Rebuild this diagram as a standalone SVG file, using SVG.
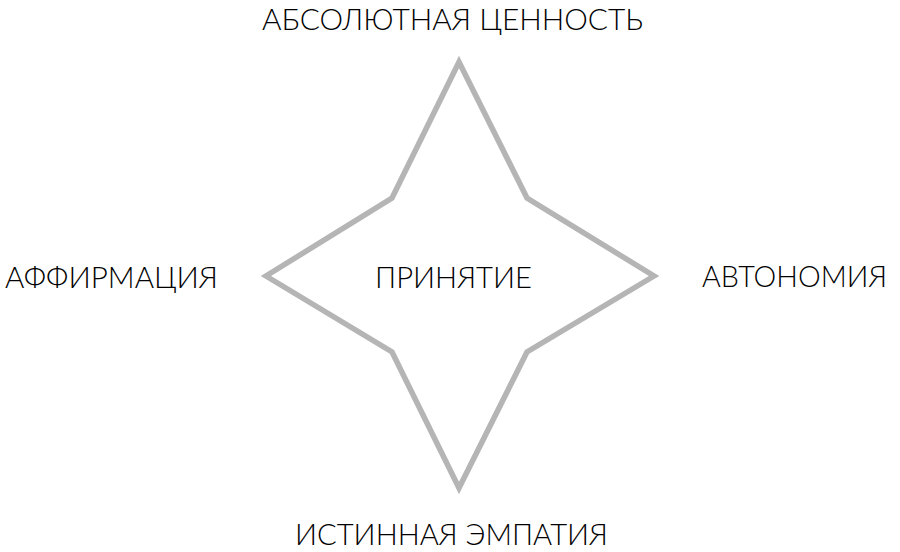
<svg xmlns="http://www.w3.org/2000/svg" width="900" height="552" viewBox="0 0 900 552">
<style>
.lbl{font-family:Lato,"Liberation Sans","DejaVu Sans",sans-serif;font-weight:300;font-size:29px;fill:#000000}
.star{fill:none;stroke:#b5b5b5;stroke-width:5.5;stroke-linejoin:miter}
</style>
<rect width="900" height="552" fill="#ffffff"/>
<g id="connectors">
<path class="star" d="M459,62 L527,198 L654,276 L527,352 L459,488 L392,352 L266,276 L392,198 Z"/>
</g>
<g id="node-top"><text class="lbl" x="262" y="30" textLength="381" lengthAdjust="spacingAndGlyphs">АБСОЛЮТНАЯ ЦЕННОСТЬ</text></g>
<g id="node-left"><text class="lbl" x="5" y="288" textLength="213" lengthAdjust="spacingAndGlyphs">АФФИРМАЦИЯ</text></g>
<g id="node-center"><text class="lbl" x="375" y="288" textLength="157" lengthAdjust="spacingAndGlyphs">ПРИНЯТИЕ</text></g>
<g id="node-right"><text class="lbl" x="702" y="287" textLength="185" lengthAdjust="spacingAndGlyphs">АВТОНОМИЯ</text></g>
<g id="node-bottom"><text class="lbl" x="295" y="545" textLength="313" lengthAdjust="spacingAndGlyphs">ИСТИННАЯ ЭМПАТИЯ</text></g>
</svg>
